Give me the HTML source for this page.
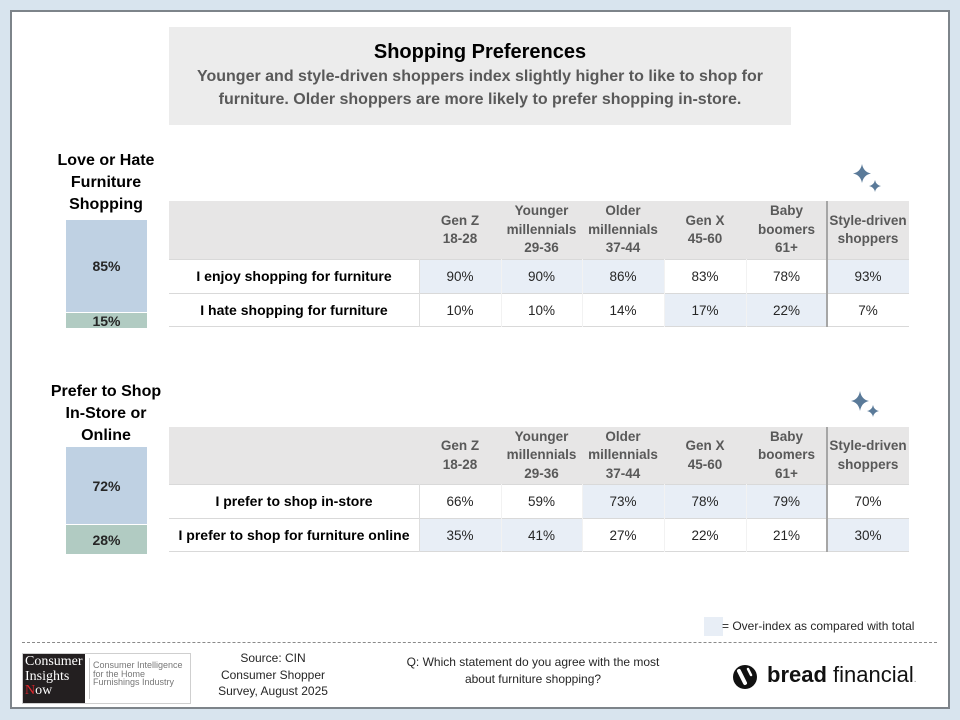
<!DOCTYPE html>
<html><head><meta charset="utf-8"><style>
*{margin:0;padding:0;box-sizing:border-box}
body{width:960px;height:720px;background:#d8e4ee;position:relative;overflow:hidden;font-family:"Liberation Sans",Arial,sans-serif;color:#000}
.a{position:absolute}
.card{left:10px;top:10px;width:940px;height:699px;background:#fff;border:2px solid #7d848a}
.c{display:flex;align-items:center;justify-content:center;text-align:center}
.hd{background:#e7e6e6;color:#595959;font-weight:bold;font-size:13.5px;line-height:18.5px}
.lb{font-weight:bold;font-size:14px;color:#000}
.v{font-size:13.5px;color:#262626}
.hl{background:#e8eef6}
.hline{height:1px;background:#d9d9d9}
.vline{width:1px;background:#dedede}
.sep{width:2px;background:#a6a6a6}
</style></head><body>
<div class="a card"></div>

<!-- title box -->
<div class="a" style="left:169px;top:27px;width:622px;height:98px;background:#ececec"></div>
<div class="a" style="left:169px;top:40px;width:622px;text-align:center;font-weight:bold;font-size:20px;line-height:24px">Shopping Preferences</div>
<div class="a" style="left:169px;top:65px;width:622px;text-align:center;font-weight:bold;font-size:16px;line-height:23px;color:#595959">Younger and style-driven shoppers index slightly higher to like to shop for<br>furniture. Older shoppers are more likely to prefer shopping in-store.</div>

<!-- left heading 1 -->
<div class="a" style="left:36px;top:150px;width:140px;text-align:center;font-weight:bold;font-size:16px;line-height:22px">Love or Hate<br>Furniture<br>Shopping</div>
<div class="a c" style="left:66px;top:220px;width:81px;height:92px;background:#bfd1e3;font-weight:bold;font-size:14px;color:#262626">85%</div>
<div class="a c" style="left:66px;top:313px;width:81px;height:15px;background:#b1cbc2;font-weight:bold;font-size:14px;color:#262626">15%</div>

<!-- left heading 2 -->
<div class="a" style="left:36px;top:381px;width:140px;text-align:center;font-weight:bold;font-size:16px;line-height:22px">Prefer to Shop<br>In-Store or<br>Online</div>
<div class="a c" style="left:66px;top:447px;width:81px;height:77px;background:#bfd1e3;font-weight:bold;font-size:14px;color:#262626">72%</div>
<div class="a c" style="left:66px;top:525px;width:81px;height:29px;background:#b1cbc2;font-weight:bold;font-size:14px;color:#262626">28%</div>

<!-- sparkles -->
<svg class="a" style="left:0;top:0" width="960" height="720">
<g fill="#5a7a99">
<path d="M862,164 Q863.5,172 871,173.5 Q863.5,175 862,183 Q860.5,175 853,173.5 Q860.5,172 862,164Z"/>
<path d="M875,180 Q876,185 881,186 Q876,187 875,192 Q874,187 869,186 Q874,185 875,180Z"/>
<path d="M860,391 Q861.5,399.5 869,401 Q861.5,402.5 860,411 Q858.5,402.5 851,401 Q858.5,399.5 860,391Z"/>
<path d="M873,405 Q874,410 879,411 Q874,412 873,417 Q872,412 867,411 Q872,410 873,405Z"/>
</g>
</svg>

<!-- TABLE 1 -->
<div class="a hd" style="left:169px;top:201px;width:740px;height:58px"></div>
<div class="a c hd" style="left:419px;top:201px;width:82px;height:58px">Gen Z<br>18-28</div>
<div class="a c hd" style="left:501px;top:201px;width:81px;height:58px">Younger<br>millennials<br>29-36</div>
<div class="a c hd" style="left:582px;top:201px;width:82px;height:58px">Older<br>millennials<br>37-44</div>
<div class="a c hd" style="left:664px;top:201px;width:82px;height:58px">Gen X<br>45-60</div>
<div class="a c hd" style="left:746px;top:201px;width:81px;height:58px">Baby<br>boomers<br>61+</div>
<div class="a c hd" style="left:827px;top:201px;width:82px;height:58px">Style-driven<br>shoppers</div>

<div class="a c lb" style="left:169px;top:259px;width:250px;height:34px">I enjoy shopping for furniture</div>
<div class="a c v hl" style="left:419px;top:259px;width:82px;height:34px">90%</div>
<div class="a c v hl" style="left:501px;top:259px;width:81px;height:34px">90%</div>
<div class="a c v hl" style="left:582px;top:259px;width:82px;height:34px">86%</div>
<div class="a c v" style="left:664px;top:259px;width:82px;height:34px">83%</div>
<div class="a c v" style="left:746px;top:259px;width:81px;height:34px">78%</div>
<div class="a c v hl" style="left:827px;top:259px;width:82px;height:34px">93%</div>

<div class="a c lb" style="left:169px;top:293px;width:250px;height:34px">I hate shopping for furniture</div>
<div class="a c v" style="left:419px;top:293px;width:82px;height:34px">10%</div>
<div class="a c v" style="left:501px;top:293px;width:81px;height:34px">10%</div>
<div class="a c v" style="left:582px;top:293px;width:82px;height:34px">14%</div>
<div class="a c v hl" style="left:664px;top:293px;width:82px;height:34px">17%</div>
<div class="a c v hl" style="left:746px;top:293px;width:81px;height:34px">22%</div>
<div class="a c v" style="left:827px;top:293px;width:82px;height:34px">7%</div>

<div class="a hline" style="left:169px;top:259px;width:740px"></div>
<div class="a hline" style="left:169px;top:293px;width:740px"></div>
<div class="a hline" style="left:169px;top:326px;width:740px"></div>
<div class="a vline" style="left:419px;top:259px;height:68px"></div>
<div class="a vline" style="left:501px;top:259px;height:68px;background:#f2f2f2"></div>
<div class="a vline" style="left:582px;top:259px;height:68px;background:#f2f2f2"></div>
<div class="a vline" style="left:664px;top:259px;height:68px;background:#f2f2f2"></div>
<div class="a vline" style="left:746px;top:259px;height:68px;background:#f2f2f2"></div>
<div class="a sep" style="left:826px;top:201px;height:126px"></div>

<!-- TABLE 2 -->
<div class="a hd" style="left:169px;top:427px;width:740px;height:57px"></div>
<div class="a c hd" style="left:419px;top:427px;width:82px;height:57px">Gen Z<br>18-28</div>
<div class="a c hd" style="left:501px;top:427px;width:81px;height:57px">Younger<br>millennials<br>29-36</div>
<div class="a c hd" style="left:582px;top:427px;width:82px;height:57px">Older<br>millennials<br>37-44</div>
<div class="a c hd" style="left:664px;top:427px;width:82px;height:57px">Gen X<br>45-60</div>
<div class="a c hd" style="left:746px;top:427px;width:81px;height:57px">Baby<br>boomers<br>61+</div>
<div class="a c hd" style="left:827px;top:427px;width:82px;height:57px">Style-driven<br>shoppers</div>

<div class="a c lb" style="left:169px;top:484px;width:250px;height:34px">I prefer to shop in-store</div>
<div class="a c v" style="left:419px;top:484px;width:82px;height:34px">66%</div>
<div class="a c v" style="left:501px;top:484px;width:81px;height:34px">59%</div>
<div class="a c v hl" style="left:582px;top:484px;width:82px;height:34px">73%</div>
<div class="a c v hl" style="left:664px;top:484px;width:82px;height:34px">78%</div>
<div class="a c v hl" style="left:746px;top:484px;width:81px;height:34px">79%</div>
<div class="a c v" style="left:827px;top:484px;width:82px;height:34px">70%</div>

<div class="a c lb" style="left:169px;top:518px;width:250px;height:34px;white-space:nowrap">I prefer to shop for furniture online</div>
<div class="a c v hl" style="left:419px;top:518px;width:82px;height:34px">35%</div>
<div class="a c v hl" style="left:501px;top:518px;width:81px;height:34px">41%</div>
<div class="a c v" style="left:582px;top:518px;width:82px;height:34px">27%</div>
<div class="a c v" style="left:664px;top:518px;width:82px;height:34px">22%</div>
<div class="a c v" style="left:746px;top:518px;width:81px;height:34px">21%</div>
<div class="a c v hl" style="left:827px;top:518px;width:82px;height:34px">30%</div>

<div class="a hline" style="left:169px;top:484px;width:740px"></div>
<div class="a hline" style="left:169px;top:518px;width:740px"></div>
<div class="a hline" style="left:169px;top:551px;width:740px"></div>
<div class="a vline" style="left:419px;top:484px;height:68px"></div>
<div class="a vline" style="left:501px;top:484px;height:68px;background:#f2f2f2"></div>
<div class="a vline" style="left:582px;top:484px;height:68px;background:#f2f2f2"></div>
<div class="a vline" style="left:664px;top:484px;height:68px;background:#f2f2f2"></div>
<div class="a vline" style="left:746px;top:484px;height:68px;background:#f2f2f2"></div>
<div class="a sep" style="left:826px;top:427px;height:125px"></div>

<!-- legend -->
<div class="a hl" style="left:704px;top:617px;width:19px;height:19px"></div>
<div class="a" style="left:722px;top:618px;font-size:12px;line-height:16px;color:#262626;white-space:nowrap">= Over-index as compared with total</div>

<!-- dashed line -->
<div class="a" style="left:22px;top:642px;width:915px;height:0;border-top:1px dashed #8a8a8a"></div>

<!-- CIN logo -->
<div class="a" style="left:22px;top:653px;width:169px;height:51px;border:1px solid #cfcfcf;background:#fff"></div>
<div class="a" style="left:23px;top:654px;width:62px;height:49px;background:#231f20"></div>
<div class="a" style="left:25px;top:655px;font-family:'Liberation Serif',serif;font-size:14px;line-height:14.5px;color:#fff;white-space:nowrap">Consumer<br>Insights<br><span style="color:#e0252b">N</span>ow</div>
<div class="a" style="left:89px;top:658px;width:1px;height:41px;background:#c8c8c8"></div>
<div class="a" style="left:93px;top:661px;font-size:9px;line-height:8.5px;color:#777;white-space:nowrap">Consumer Intelligence<br>for the Home<br>Furnishings Industry</div>

<!-- Source -->
<div class="a" style="left:203px;top:650px;width:140px;text-align:center;font-size:12px;line-height:16.5px;color:#262626">Source: CIN<br>Consumer Shopper<br>Survey, August 2025</div>

<!-- Question -->
<div class="a" style="left:373px;top:654px;width:320px;text-align:center;font-size:12px;line-height:17px;color:#262626">Q: Which statement do you agree with the most<br>about furniture shopping?</div>

<!-- bread financial -->
<svg class="a" style="left:732px;top:664px" width="28" height="28">
<circle cx="13" cy="13" r="12" fill="#111"/>
<path d="M7,7 L13,19" stroke="#fff" stroke-width="4" stroke-linecap="round"/>
<path d="M16,5 L19,11" stroke="#fff" stroke-width="2.5" stroke-linecap="round"/>
</svg>
<div class="a" style="left:767px;top:662px;font-size:22px;line-height:26px;color:#111;white-space:nowrap"><b>bread</b> financial<span style="font-size:10px;color:#888">.</span></div>

</body></html>
